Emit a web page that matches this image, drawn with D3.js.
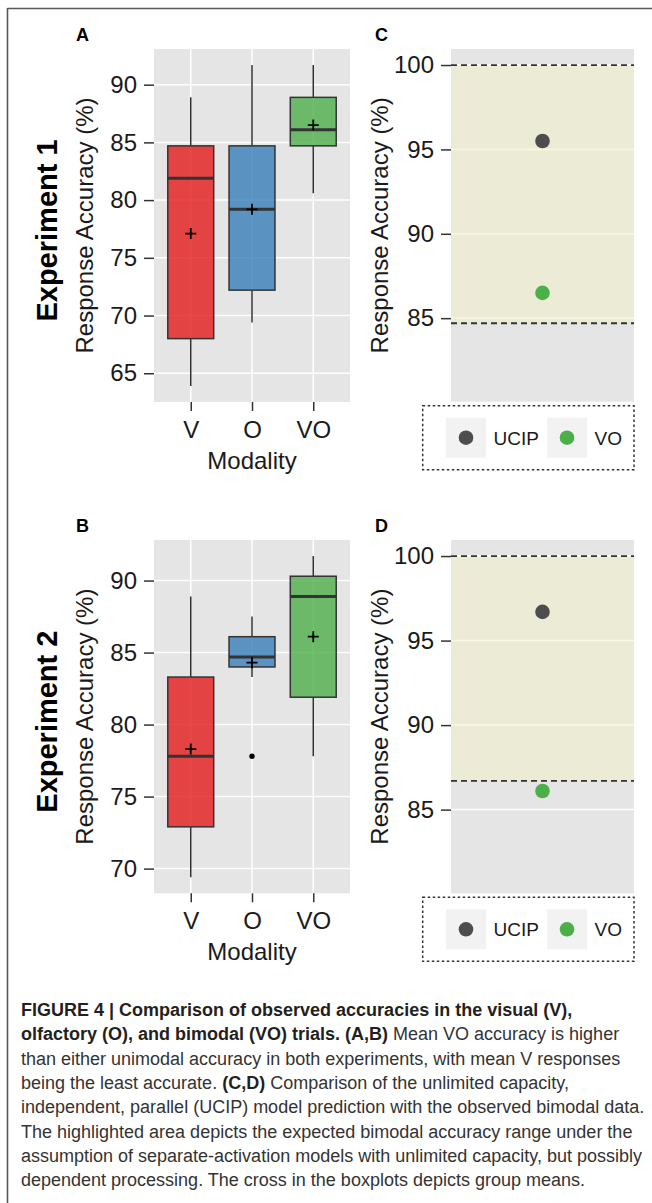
<!DOCTYPE html>
<html><head><meta charset="utf-8">
<script src="https://cdn.jsdelivr.net/npm/d3@7"></script>
<style>
body{margin:0;background:#fff}
svg{display:block}
text{font-family:"Liberation Sans",Arial,Helvetica,sans-serif}
</style>
</head><body><svg id="chart" width="652" height="1203"></svg>
<script>
// ---------- DATA ----------
const categories = ["V", "O", "VO"];
// Experiment 1 box statistics (Response Accuracy %)
const exp1Min    = [63.9, 69.4, 80.6];
const exp1Q1     = [68.0, 72.2, 84.7];
const exp1Median = [81.9, 79.2, 86.1];
const exp1Q3     = [84.7, 84.7, 88.9];
const exp1Max    = [88.9, 91.7, 91.7];
const exp1Mean   = [77.1, 79.2, 86.5];
const exp1Outliers = [[], [], []];
// Experiment 2 box statistics
const exp2Min    = [69.4, 83.3, 77.8];
const exp2Q1     = [72.9, 84.0, 81.9];
const exp2Median = [77.8, 84.7, 88.9];
const exp2Q3     = [83.3, 86.1, 90.3];
const exp2Max    = [88.9, 87.5, 91.7];
const exp2Mean   = [78.3, 84.3, 86.1];
const exp2Outliers = [[], [77.8], []];
// tick labels
const boxTicks1 = [65, 70, 75, 80, 85, 90];
const boxTicks2 = [70, 75, 80, 85, 90];
const modelTicks = [85, 90, 95, 100];
const modelLimits = [81, 100];
// model comparison (C, D)
const modelSeries = ["UCIP", "VO"];
const exp1Model = [95.5, 86.5];
const exp2Model = [96.7, 86.1];
const exp1Range = [84.7, 100];
const exp2Range = [86.7, 100];

const boxColors = ["#E41A1C", "#377EB8", "#4DAF4A"];
const modelColors = ["#4D4D4D", "#4DAF4A"];

// ---------- DRAW ----------
const svg = d3.select("#chart");
const TXT = "#1a1a1a", AX = "#333333", BG = "#E5E5E5";

// frame
svg.append("line").attr("x1", 7.5).attr("x2", 652).attr("y1", 8.5).attr("y2", 8.5)
  .attr("stroke", "#5a5a5a").attr("stroke-width", 1.6);
svg.append("line").attr("x1", 7.5).attr("x2", 7.5).attr("y1", 8).attr("y2", 1203)
  .attr("stroke", "#5a5a5a").attr("stroke-width", 1.6);

function expand(lo, hi) { const d = (hi - lo) * 0.05; return [lo - d, hi + d]; }

function yAxisStuff(g, y, ticks, x0, x1) {
  const ax = g.append("g").attr("transform", `translate(${x0},0)`)
    .call(d3.axisLeft(y).tickValues(ticks).tickSize(10).tickPadding(7).tickFormat(d3.format("d")));
  ax.select(".domain").remove();
  ax.selectAll(".tick line").attr("stroke", AX).attr("stroke-width", 1.5);
  ax.selectAll(".tick text").attr("font-size", 24).attr("fill", TXT)
    .attr("font-family", '"Liberation Sans",Arial,sans-serif');
}

function yTitle(g, xBase, yc) {
  g.append("text").attr("transform", `translate(${xBase},${yc}) rotate(-90)`)
    .attr("text-anchor", "middle").attr("font-size", 24).attr("fill", TXT)
    .text("Response Accuracy (%)");
}

function panelLabel(g, x, y, t) {
  g.append("text").attr("x", x).attr("y", y).attr("font-size", 18)
    .attr("font-weight", "bold").attr("fill", "#000").text(t);
}

function drawBoxPanel(o) {
  const g = svg.append("g");
  const y = d3.scaleLinear()
    .domain(expand(d3.min(o.min.concat(o.outliers.flat())), d3.max(o.max)))
    .range([o.y1, o.y0]);
  const x = d3.scalePoint().domain(categories).range([o.x0, o.x1]).padding(0.6);
  const bw = x.step() * 0.75;

  g.append("rect").attr("x", o.x0).attr("y", o.y0).attr("width", o.x1 - o.x0)
    .attr("height", o.y1 - o.y0).attr("fill", BG);
  g.selectAll(".hg").data(o.ticks).join("line")
    .attr("x1", o.x0).attr("x2", o.x1).attr("y1", d => y(d)).attr("y2", d => y(d))
    .attr("stroke", "#fff").attr("stroke-width", 1.5);
  g.selectAll(".vg").data(categories).join("line")
    .attr("x1", d => x(d)).attr("x2", d => x(d)).attr("y1", o.y0).attr("y2", o.y1)
    .attr("stroke", "#fff").attr("stroke-width", 1.5);

  categories.forEach((c, i) => {
    const cx = x(c);
    g.append("line").attr("x1", cx).attr("x2", cx).attr("y1", y(o.max[i])).attr("y2", y(o.q3[i]))
      .attr("stroke", AX).attr("stroke-width", 1.5);
    g.append("line").attr("x1", cx).attr("x2", cx).attr("y1", y(o.q1[i])).attr("y2", y(o.min[i]))
      .attr("stroke", AX).attr("stroke-width", 1.5);
    g.append("rect").attr("x", cx - bw / 2).attr("y", y(o.q3[i])).attr("width", bw)
      .attr("height", y(o.q1[i]) - y(o.q3[i]))
      .attr("fill", boxColors[i]).attr("fill-opacity", 0.8)
      .attr("stroke", AX).attr("stroke-width", 1.5);
    g.append("line").attr("x1", cx - bw / 2).attr("x2", cx + bw / 2)
      .attr("y1", y(o.median[i])).attr("y2", y(o.median[i]))
      .attr("stroke", AX).attr("stroke-width", 3);
    const my = y(o.mean[i]), s = 5.5;
    g.append("path").attr("d", `M${cx - s},${my}H${cx + s}M${cx},${my - s}V${my + s}`)
      .attr("stroke", "#000").attr("stroke-width", 1.8).attr("fill", "none");
    o.outliers[i].forEach(v => {
      g.append("circle").attr("cx", cx).attr("cy", y(v)).attr("r", 2.7).attr("fill", "#000");
    });
  });

  yAxisStuff(g, y, o.ticks, o.x0, o.x1);
  const xa = g.append("g").attr("transform", `translate(0,${o.y1})`)
    .call(d3.axisBottom(x).tickSize(9).tickPadding(10));
  xa.select(".domain").remove();
  xa.selectAll(".tick line").attr("stroke", AX).attr("stroke-width", 1.5);
  xa.selectAll(".tick text").attr("font-size", 24).attr("fill", TXT)
    .attr("font-family", '"Liberation Sans",Arial,sans-serif');

  g.append("text").attr("x", (o.x0 + o.x1) / 2).attr("y", o.y1 + 66.5)
    .attr("text-anchor", "middle").attr("font-size", 24).attr("fill", TXT).text("Modality");
  const yc = (o.y0 + o.y1) / 2;
  yTitle(g, 93, yc);
  g.append("text").attr("transform", `translate(57,${yc + 5}) rotate(-90)`)
    .attr("text-anchor", "middle").attr("font-size", 29).attr("font-weight", "bold")
    .attr("fill", "#000").text(o.exp);
  panelLabel(g, 76, o.y0 - 8.5, o.label);
}

function drawModelPanel(o) {
  const g = svg.append("g");
  const y = d3.scaleLinear().domain(expand(modelLimits[0], modelLimits[1])).range([o.y1, o.y0]);
  const x = d3.scalePoint().domain(["obs"]).range([o.x0, o.x1]).padding(0.5);

  g.append("rect").attr("x", o.x0).attr("y", o.y0).attr("width", o.x1 - o.x0)
    .attr("height", o.y1 - o.y0).attr("fill", BG);
  g.selectAll(".hg").data(modelTicks).join("line")
    .attr("x1", o.x0).attr("x2", o.x1).attr("y1", d => y(d)).attr("y2", d => y(d))
    .attr("stroke", "#fff").attr("stroke-width", 1.5);
  g.append("rect").attr("x", o.x0).attr("width", o.x1 - o.x0)
    .attr("y", y(o.range[1])).attr("height", y(o.range[0]) - y(o.range[1]))
    .attr("fill", "#F3F1C6").attr("fill-opacity", 0.5);
  g.selectAll(".dl").data(o.range).join("line")
    .attr("x1", o.x0).attr("x2", o.x1).attr("y1", d => y(d)).attr("y2", d => y(d))
    .attr("stroke", "#333").attr("stroke-width", 1.8).attr("stroke-dasharray", "6,4");

  modelSeries.forEach((s, i) => {
    g.append("circle").attr("cx", x("obs")).attr("cy", y(o.values[i])).attr("r", 7.3)
      .attr("fill", modelColors[i]);
  });

  yAxisStuff(g, y, modelTicks, o.x0, o.x1);
  yTitle(g, 388, (o.y0 + o.y1) / 2);
  panelLabel(g, 375, o.y0 - 8.5, o.label);

  // legend
  const ly0 = o.y1 + 4, lh = 64, lx0 = 422.7, lx1 = 634;
  g.append("rect").attr("x", lx0).attr("y", ly0).attr("width", lx1 - lx0).attr("height", lh)
    .attr("fill", "#fff").attr("stroke", "#333").attr("stroke-width", 1.5)
    .attr("stroke-dasharray", "2.5,2.5");
  const keyX = [446, 547], cy = ly0 + lh / 2;
  modelSeries.forEach((s, i) => {
    g.append("rect").attr("x", keyX[i]).attr("y", cy - 20).attr("width", 40).attr("height", 40)
      .attr("fill", "#F2F2F2");
    g.append("circle").attr("cx", keyX[i] + 20).attr("cy", cy).attr("r", 7.3).attr("fill", modelColors[i]);
    g.append("text").attr("x", keyX[i] + 47.5).attr("y", cy + 6.9).attr("font-size", 19)
      .attr("fill", TXT).text(s);
  });
}

drawBoxPanel({x0: 154, x1: 350, y0: 49, y1: 402, label: "A", exp: "Experiment 1",
  min: exp1Min, q1: exp1Q1, median: exp1Median, q3: exp1Q3, max: exp1Max, mean: exp1Mean,
  outliers: exp1Outliers, ticks: boxTicks1});
drawBoxPanel({x0: 154, x1: 350, y0: 540, y1: 893.3, label: "B", exp: "Experiment 2",
  min: exp2Min, q1: exp2Q1, median: exp2Median, q3: exp2Q3, max: exp2Max, mean: exp2Mean,
  outliers: exp2Outliers, ticks: boxTicks2});
drawModelPanel({x0: 451, x1: 634, y0: 49, y1: 401.7, label: "C", values: exp1Model, range: exp1Range});
drawModelPanel({x0: 451, x1: 634, y0: 540, y1: 893.3, label: "D", values: exp2Model, range: exp2Range});

// caption
const caption = [
  [["FIGURE 4 | Comparison of observed accuracies in the visual (V),", true]],
  [["olfactory (O), and bimodal (VO) trials. (A,B)", true], [" Mean VO accuracy is higher", false]],
  [["than either unimodal accuracy in both experiments, with mean V responses", false]],
  [["being the least accurate. ", false], ["(C,D)", true], [" Comparison of the unlimited capacity,", false]],
  [["independent, parallel (UCIP) model prediction with the observed bimodal data.", false]],
  [["The highlighted area depicts the expected bimodal accuracy range under the", false]],
  [["assumption of separate-activation models with unlimited capacity, but possibly", false]],
  [["dependent processing. The cross in the boxplots depicts group means.", false]]
];
caption.forEach((line, i) => {
  const t = svg.append("text").attr("x", 21).attr("y", 1016 + i * 24.3)
    .attr("font-size", 18).attr("fill", "#231f20").attr("xml:space", "preserve");
  line.forEach(([s, b]) => {
    t.append("tspan").attr("font-weight", b ? "bold" : "normal")
      .attr("fill", b ? "#231f20" : "#333").text(s);
  });
});
</script>
</body></html>
